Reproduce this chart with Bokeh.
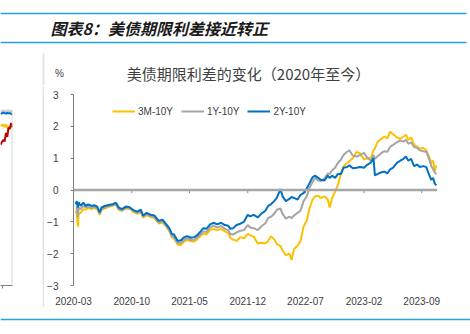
from datetime import datetime
import pandas as pd
from bokeh.plotting import figure
from bokeh.models import Range1d, FixedTicker, Span, DatetimeTickFormatter, Label, CustomJSTickFormatter
from bokeh.layouts import column, row
from bokeh.embed import file_html
from bokeh.resources import INLINE
from bokeh.core.properties import value

# ---------------- data ----------------
header_title = "图表8：美债期限利差接近转正"
chart_title = "美债期限利差的变化（2020年至今）"
unit_label = "%"
series_names = ["3M-10Y", "1Y-10Y", "2Y-10Y"]
series_colors = ["#FFC000", "#A5A5A5", "#0070C0"]
tick_labels = ["2020-03", "2020-10", "2021-05", "2021-12", "2022-07", "2023-02", "2023-09"]
y_ticks = [-3, -2, -1, 0, 1, 2, 3]

dates = [
    "2020-03-09", "2020-03-13", "2020-03-17", "2020-03-20", "2020-03-27", "2020-04-06", "2020-04-15", "2020-04-24",
    "2020-05-06", "2020-05-15", "2020-05-27", "2020-06-05", "2020-06-12", "2020-06-24", "2020-07-08", "2020-07-22",
    "2020-08-04", "2020-08-14", "2020-08-26", "2020-09-09", "2020-09-23", "2020-10-07", "2020-10-21", "2020-11-04",
    "2020-11-11", "2020-11-25", "2020-12-09", "2020-12-23", "2021-01-08", "2021-01-22", "2021-02-05", "2021-02-16",
    "2021-02-25", "2021-03-05", "2021-03-12", "2021-03-19", "2021-03-31", "2021-04-09", "2021-04-22", "2021-05-07",
    "2021-05-18", "2021-05-28", "2021-06-11", "2021-06-21", "2021-07-02", "2021-07-16", "2021-07-28", "2021-08-11",
    "2021-08-25", "2021-09-08", "2021-09-20", "2021-09-28", "2021-10-08", "2021-10-21", "2021-11-04", "2021-11-17",
    "2021-12-01", "2021-12-10", "2021-12-23", "2022-01-07", "2022-01-20", "2022-02-03", "2022-02-14", "2022-02-24",
    "2022-03-08", "2022-03-18", "2022-03-31", "2022-04-08", "2022-04-20", "2022-05-03", "2022-05-11", "2022-05-20",
    "2022-06-02", "2022-06-13", "2022-06-24", "2022-07-06", "2022-07-15", "2022-07-27", "2022-08-05", "2022-08-17",
    "2022-08-26", "2022-09-09", "2022-09-21", "2022-09-28", "2022-10-07", "2022-10-18", "2022-10-28", "2022-11-08",
    "2022-11-18", "2022-12-01", "2022-12-09", "2022-12-22", "2023-01-05", "2023-01-18", "2023-02-01", "2023-02-14",
    "2023-02-27", "2023-03-08", "2023-03-13", "2023-03-22", "2023-04-04", "2023-04-17", "2023-04-28", "2023-05-08",
    "2023-05-19", "2023-06-02", "2023-06-14", "2023-06-26", "2023-07-05", "2023-07-14", "2023-07-24", "2023-08-04",
    "2023-08-15", "2023-08-25", "2023-09-07", "2023-09-18", "2023-09-28", "2023-10-06", "2023-10-13", "2023-10-19",
    "2023-10-25",
]

s_3m10y = [
    -0.65, -0.75, -1.15, -0.75, -0.72, -0.60, -0.62, -0.57,
    -0.60, -0.57, -0.60, -0.78, -0.63, -0.58, -0.53, -0.50,
    -0.46, -0.62, -0.66, -0.58, -0.59, -0.69, -0.75, -0.70,
    -0.87, -0.79, -0.85, -0.88, -1.05, -1.02, -1.16, -1.29,
    -1.48, -1.52, -1.62, -1.72, -1.73, -1.64, -1.57, -1.61,
    -1.62, -1.56, -1.44, -1.37, -1.40, -1.26, -1.22, -1.27,
    -1.22, -1.30, -1.35, -1.50, -1.56, -1.60, -1.48, -1.52,
    -1.38, -1.42, -1.47, -1.68, -1.66, -1.68, -1.60, -1.45,
    -1.55, -1.70, -1.76, -1.90, -2.05, -2.00, -2.20, -1.85,
    -1.75, -1.60, -1.15, -0.95, -0.60, -0.30, -0.20, -0.18,
    -0.25, -0.20, -0.30, -0.55, -0.25, -0.05, 0.15, 0.50,
    0.75, 0.85, 0.90, 1.00, 1.20, 1.15, 0.96, 1.00,
    1.02, 1.25, 1.30, 1.50, 1.60, 1.68, 1.62, 1.83,
    1.75, 1.65, 1.60, 1.68, 1.73, 1.58, 1.65, 1.42,
    1.36, 1.30, 1.32, 1.25, 1.05, 0.85, 0.92, 0.60,
    0.78,
]

s_1y10y = [
    -0.55, -0.55, -0.85, -0.55, -0.60, -0.50, -0.55, -0.52,
    -0.57, -0.53, -0.57, -0.75, -0.60, -0.55, -0.50, -0.48,
    -0.44, -0.60, -0.64, -0.56, -0.57, -0.66, -0.72, -0.67,
    -0.84, -0.76, -0.82, -0.85, -1.02, -0.98, -1.13, -1.26,
    -1.45, -1.48, -1.58, -1.67, -1.66, -1.58, -1.52, -1.57,
    -1.56, -1.50, -1.38, -1.30, -1.32, -1.18, -1.12, -1.18,
    -1.13, -1.22, -1.26, -1.38, -1.40, -1.33, -1.28, -1.26,
    -1.10, -1.18, -1.20, -1.26, -1.14, -1.05, -0.88, -0.84,
    -0.75, -0.62, -0.58, -0.75, -0.90, -0.84, -0.88, -0.80,
    -0.72, -0.65, -0.35, -0.20, 0.05, 0.25, 0.38, 0.30,
    0.28, 0.36, 0.52, 0.50, 0.62, 0.70, 0.85, 0.95,
    1.10, 1.20, 1.25, 1.08, 1.05, 1.10, 1.17, 1.00,
    0.92, 1.10, 0.98, 1.05, 1.15, 1.22, 1.20, 1.36,
    1.42, 1.50, 1.55, 1.52, 1.58, 1.45, 1.50, 1.35,
    1.33, 1.25, 1.22, 1.20, 0.98, 0.75, 0.65, 0.55,
    0.50,
]

s_2y10y = [
    -0.45, -0.35, -0.55, -0.38, -0.50, -0.40, -0.50, -0.45,
    -0.50, -0.48, -0.52, -0.70, -0.55, -0.50, -0.47, -0.45,
    -0.40, -0.55, -0.60, -0.52, -0.54, -0.63, -0.68, -0.62,
    -0.80, -0.72, -0.78, -0.80, -0.97, -0.93, -1.08, -1.20,
    -1.38, -1.40, -1.50, -1.60, -1.58, -1.50, -1.45, -1.50,
    -1.48, -1.43, -1.30, -1.20, -1.22, -1.08, -1.03, -1.08,
    -1.03, -1.10, -1.12, -1.22, -1.20, -1.10, -1.06, -1.00,
    -0.78, -0.83, -0.78, -0.86, -0.74, -0.66, -0.50, -0.45,
    -0.35, -0.25, 0.03, -0.20, -0.35, -0.28, -0.22, -0.25,
    -0.30, -0.15, -0.10, 0.05, 0.20, 0.40, 0.45, 0.38,
    0.32, 0.30, 0.45, 0.38, 0.45, 0.38, 0.50, 0.50,
    0.70, 0.72, 0.78, 0.68, 0.70, 0.72, 0.70, 0.80,
    0.87, 1.00, 0.46, 0.50, 0.55, 0.58, 0.52, 0.65,
    0.70, 0.85, 0.92, 0.98, 1.05, 0.92, 0.98, 0.75,
    0.80, 0.72, 0.75, 0.72, 0.48, 0.32, 0.38, 0.20,
    0.15,
]

# fragment of the neighbouring chart (cut off at the left edge of the page)
frag_dates = ["2023-08-24", "2023-08-29", "2023-09-04", "2023-09-08", "2023-09-13",
              "2023-09-18", "2023-09-22", "2023-09-27", "2023-10-02", "2023-10-06"]
frag_blue = [5.90, 5.88, 5.92, 5.90, 5.88, 5.91, 5.89, 5.90, 5.87, 5.88]
frag_gray = [5.97, 5.96, 5.98, 5.97, 5.96, 5.97, 5.98, 5.97, 5.96, 5.97]
frag_yellow = [5.50, 5.45, 5.52, 5.42, 5.50, 5.38, 5.45, 5.35, 5.47, 5.40]
frag_red = [4.81, 4.90, 4.98, 4.92, 5.22, 5.08, 5.39, 5.36, 5.56, 5.42]
frag_colors = ["#C8C8C8", "#0070C0", "#FFC000", "#C00000"]
frag_tick = "2023-09"
frag_top = 6.0

# ---------------- styling ----------------
BLUE_RULE = "#22A3E0"
SEP = "#E3E3E3"
TXT = "#404040"
CJK = value("Noto Sans CJK SC")
LAT = "Liberation Sans"
FMT = "%Y-%m"


def blank(w, h, x0, x1, y0, y1):
    f = figure(width=w, height=h, x_range=Range1d(x0, x1), y_range=Range1d(y0, y1),
               output_backend="svg", toolbar_location=None, min_border=0,
               x_axis_type=None, y_axis_type=None)
    f.outline_line_color = None
    f.grid.visible = False
    f.background_fill_color = "white"
    f.border_fill_color = "white"
    return f


def month_fmt():
    return DatetimeTickFormatter(milliseconds=FMT, seconds=FMT, minsec=FMT, minutes=FMT, hourmin=FMT,
                                 hours=FMT, days=FMT, months=FMT, years=FMT)


# header (canvas y 0..85)
hdr = blank(470, 85, 0, 470, 85, 0)
hdr.segment(x0=[0, 0], y0=[13, 42], x1=[466, 466], y1=[13, 42], line_color=BLUE_RULE, line_width=1.6)
hdr.segment(x0=[43], y0=[53], x1=[43], y1=[85], line_color=SEP, line_width=2)
hdr.text(x=[50], y=[27], text=[header_title], text_font=CJK, text_font_size=value("16px"),
         text_font_style=value("bold italic"), text_color="#1a1a1a", text_baseline="middle", text_align="left")
hdr.text(x=[59], y=[73], text=[unit_label], text_font=value(LAT), text_font_size=value("10px"),
         text_color=TXT, text_baseline="middle", text_align="center")
hdr.text(x=[248], y=[73], text=[chart_title], text_font=CJK, text_font_size=value("15px"),
         text_color=TXT, text_baseline="middle", text_align="center")

# left fragment (canvas x 0..42, y 85..307); frame = x 0..12, y 94..288
fx = pd.to_datetime(frag_dates)
ftick = pd.Timestamp(frag_tick + "-01")
left = figure(width=42, height=222, x_axis_type="datetime",
              x_range=Range1d(datetime(2023, 8, 24), datetime(2023, 10, 7)),
              y_range=Range1d(-0.034, 6.54), y_axis_type=None,
              output_backend="svg", toolbar_location=None,
              min_border_left=0, min_border_right=30, min_border_top=9, min_border_bottom=19)
left.outline_line_color = None
left.grid.visible = False
left.border_fill_color = "white"
for vals, col in zip([frag_gray, frag_blue, frag_yellow, frag_red], frag_colors):
    left.line(fx, vals, line_color=col, line_width=2)
left.segment(x0=[fx[0]], y0=[frag_top], x1=[fx[-1]], y1=[frag_top], line_color="#D9D9D9", line_width=1)
left.segment(x0=[fx[-1]], y0=[0], x1=[fx[-1]], y1=[frag_top], line_color="#BFBFBF", line_width=1)
lxa = left.xaxis[0]
lxa.ticker = FixedTicker(ticks=[int(ftick.value // 10**6)])
lxa.formatter = CustomJSTickFormatter(code="return ''")
lxa.axis_line_color = "#808080"
lxa.major_tick_line_color = "#808080"
lxa.major_tick_out = 3
lxa.major_tick_in = 0
lxa.minor_tick_line_color = None
left.add_layout(Label(x=ftick, y=-0.41, text=frag_tick, text_align="center", text_baseline="middle",
                      text_font=LAT, text_font_size="10px", text_color=TXT))

# separator (canvas x 42..44)
sep = blank(2, 222, 0, 1, 0, 1)
sep.background_fill_color = SEP
sep.border_fill_color = SEP

# main chart (canvas x 44..470, y 85..307)
x = pd.to_datetime(dates)
tick_dt = [pd.Timestamp(t + "-01") for t in tick_labels]
tick_ms = [int(t.value // 10**6) for t in tick_dt]

p = figure(width=426, height=222, x_axis_type="datetime",
           x_range=Range1d(datetime(2020, 3, 1), datetime(2023, 10, 29)),
           y_range=Range1d(-3, 3), output_backend="svg", toolbar_location=None,
           min_border_left=25, min_border_right=33, min_border_top=9, min_border_bottom=19)
p.outline_line_color = None
p.grid.visible = False
p.background_fill_color = "white"
p.border_fill_color = "white"

p.add_layout(Span(location=0, dimension="width", line_color="#A6A6A6", line_width=2.5))
p.segment(x0=tick_dt[1:], y0=[0] * (len(tick_dt) - 1), x1=tick_dt[1:], y1=[-0.1] * (len(tick_dt) - 1),
          line_color="#8C8C8C", line_width=1)

for vals, name, col in zip([s_3m10y, s_1y10y, s_2y10y], series_names, series_colors):
    p.line(x, vals, line_color=col, line_width=2, legend_label=name)

xa = p.xaxis[0]
xa.ticker = FixedTicker(ticks=tick_ms)
xa.formatter = month_fmt()
xa.axis_line_color = None
xa.major_tick_line_color = None
xa.minor_tick_line_color = None
xa.major_label_standoff = 5
xa.major_label_text_font = LAT
xa.major_label_text_font_size = "10px"
xa.major_label_text_color = TXT

ya = p.yaxis[0]
ya.ticker = FixedTicker(ticks=y_ticks)
ya.axis_line_color = "#808080"
ya.major_tick_line_color = "#808080"
ya.major_tick_out = 3
ya.major_tick_in = 0
ya.minor_tick_line_color = None
ya.major_label_standoff = 12
ya.major_label_text_font = LAT
ya.major_label_text_font_size = "10px"
ya.major_label_text_color = TXT

lg = p.legend[0]
lg.location = (39, 168)
lg.orientation = "horizontal"
lg.padding = 0
lg.margin = 0
lg.spacing = 8
lg.label_standoff = 3
lg.glyph_width = 23
lg.glyph_height = 12
lg.label_height = 12
lg.border_line_color = None
lg.background_fill_alpha = 0
lg.label_text_font = LAT
lg.label_text_font_size = "10px"
lg.label_text_color = TXT

# footer (canvas y 307..334)
ftr = blank(470, 27, 0, 470, 334, 307)
ftr.segment(x0=[0], y0=[319], x1=[470], y1=[319], line_color=BLUE_RULE, line_width=1.6)

layout = column(hdr, row(left, sep, p), ftr)
open("out.html", "w").write(file_html(layout, INLINE))
